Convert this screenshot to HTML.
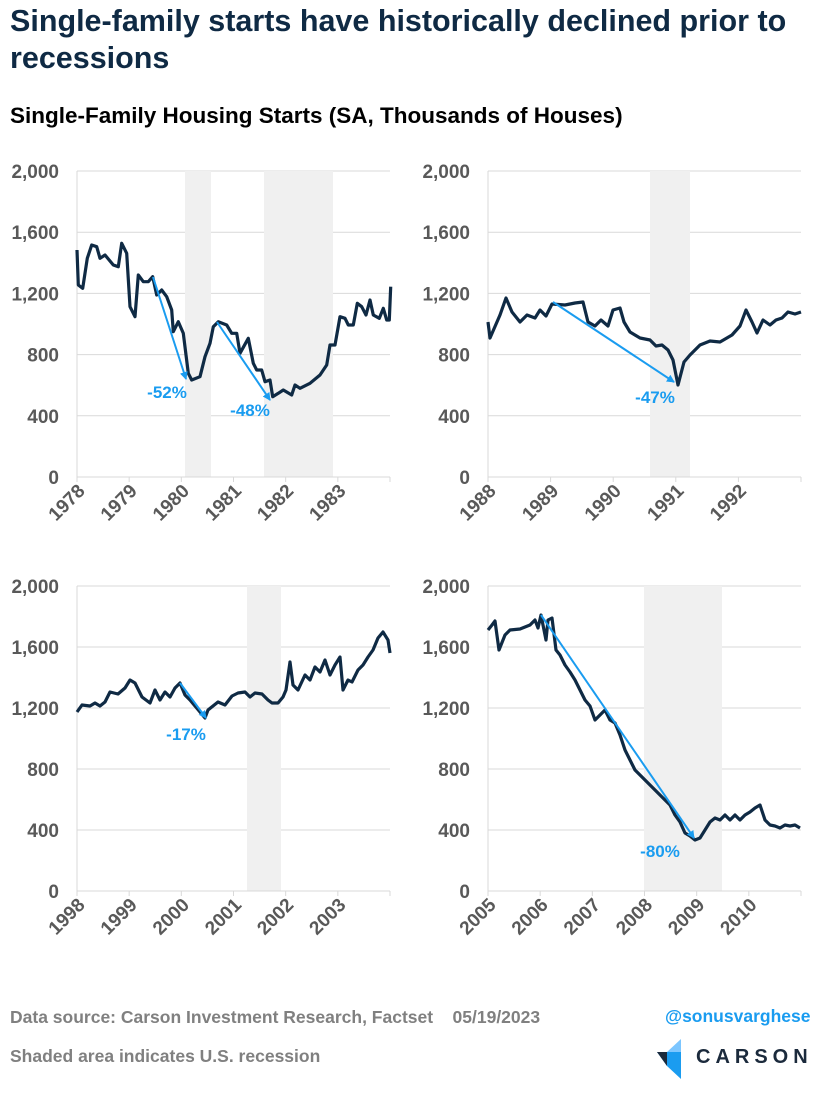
<!DOCTYPE html>
<html><head><meta charset="utf-8"><style>
body{margin:0;width:825px;height:1100px;background:#fff;font-family:"Liberation Sans",Arial,sans-serif;overflow:hidden;position:relative}
.t{position:absolute;left:10px;top:3px;font-size:30.5px;font-weight:bold;color:#0f2a44;line-height:37px;width:810px}
.s{position:absolute;left:10px;top:103px;font-size:22.5px;font-weight:bold;color:#000}
.f{position:absolute;font-size:17.5px;font-weight:bold;color:#808080}
svg{position:absolute;left:0;top:0}
</style></head><body>
<div class="t">Single-family starts have historically declined prior to recessions</div>
<div class="s">Single-Family Housing Starts (SA, Thousands of Houses)</div>
<div class="f" style="left:10px;top:1007px">Data source: Carson Investment Research, Factset&nbsp;&nbsp;&nbsp;&nbsp;05/19/2023</div>
<div class="f" style="left:10px;top:1046px">Shaded area indicates U.S. recession</div>
<div class="f" style="left:665px;top:1006px;color:#1a9cf0;font-size:17.5px">@sonusvarghese</div>
<div style="position:absolute;left:696px;top:1046px;font-size:20px;letter-spacing:5px;color:#1b2a3c;font-weight:bold">CARSON</div>
<svg width="825" height="1100" id="s">
<polygon points="681,1039 667,1052 681,1052" fill="#7cc6ff"/>
<polygon points="657,1052 681,1052 681,1079 667,1066" fill="#1a9cf0"/>
<polygon points="657,1052 667,1052 667,1066" fill="#1b2a3c"/>
</svg>
<script>
var svg=document.getElementById('s'),h='';
function chart(x0,x1,y0,yT,years,shades,pts,arrows,labs){
 for(var i=0;i<=5;i++){var y=y0+(yT-y0)*i/5;
  if(i>0)h+='<line x1="'+x0+'" x2="'+x1+'" y1="'+y+'" y2="'+y+'" stroke="#d9d9d9" stroke-width="1"/>';
  h+='<text x="'+(x0-18)+'" y="'+(y+7)+'" text-anchor="end" font-size="19" font-weight="bold" fill="#595959">'+(['0','400','800','1,200','1,600','2,000'][i])+'</text>';}
 shades.forEach(function(s){h+='<rect x="'+s[0]+'" y="'+yT+'" width="'+(s[1]-s[0])+'" height="'+(y0-yT)+'" fill="#f0f0f0"/>';});
 h+='<line x1="'+x0+'" x2="'+x0+'" y1="'+yT+'" y2="'+y0+'" stroke="#d9d9d9"/>';
 h+='<line x1="'+x0+'" x2="'+x1+'" y1="'+y0+'" y2="'+y0+'" stroke="#d9d9d9"/>';
 var n=years.length;
 for(var j=0;j<=n;j++){var x=x0+(x1-x0)*j/n;h+='<line x1="'+x+'" x2="'+x+'" y1="'+y0+'" y2="'+(y0+5)+'" stroke="#d9d9d9"/>';
  if(j<n)h+='<text transform="translate('+(x+9)+','+(y0+15)+') rotate(-45)" text-anchor="end" font-size="19" font-weight="bold" fill="#595959">'+years[j]+'</text>';}
 h+='<polyline points="'+pts+'" fill="none" stroke="#0f2a44" stroke-width="3.2" stroke-linejoin="round"/>';
 arrows.forEach(function(a){h+='<line x1="'+a[0]+'" y1="'+a[1]+'" x2="'+a[2]+'" y2="'+a[3]+'" stroke="#1a9cf0" stroke-width="2" marker-end="url(#ar)"/>';});
 labs.forEach(function(l){h+='<text x="'+l[0]+'" y="'+l[1]+'" text-anchor="middle" font-size="17" font-weight="bold" fill="#1a9cf0">'+l[2]+'</text>';});
}
var z=[[231,270],[235,375],[248,385],[262,295],[275,255],[290,260],[300,295],[315,285],[340,315],[355,320],[365,250],[380,280],[390,440],[405,470],[415,345],[430,365],[445,365],[458,350],[470,405],[485,390],[500,410],[515,450],[520,515],[535,485],[550,520],[565,640],[575,660],[600,650],[615,590],[630,550],[640,500],[655,485],[680,495],[695,520],[710,520],[720,580],[745,535],[760,610],[770,630],[785,630],[795,665],[810,660],[818,710],[835,700],[850,690],[875,705],[885,675],[900,685],[930,670],[960,645],[980,615],[990,555],[1005,555],[1020,470],[1035,475],[1045,495],[1060,495],[1072,430],[1085,440],[1098,465],[1110,420],[1120,465],[1138,475],[1150,445],[1160,480],[1168,480],[1172,380]];
var p1=z.map(function(q){return (q[0]/3).toFixed(1)+','+(160+q[1]/3).toFixed(1)}).join(' ');
chart(77,390,477,171,[1978,1979,1980,1981,1982,1983],[[185,211],[264,333]],p1,[[153,277,186,379],[217,322,270,400]],[[167,398,'-52%'],[250,416,'-48%']]);
chart(488,801,477,171,[1988,1989,1990,1991,1992],[[650,690]],
"488,322 490,338 500,315 506,298 512,312 520,322 527,315 535,318 540,310 546,316 552,304 565,305 575,303 583,302 588,322 595,326 601,320 608,326 613,310 620,308 624,322 630,332 640,338 650,340 656,346 662,345 668,350 673,360 678,385 684,362 690,355 700,345 710,341 720,342 732,335 740,326 746,310 752,322 757,333 763,320 770,325 776,320 782,318 788,312 795,314 801,312",
[[553,302,674,382]],[[655,403,'-47%']]);
chart(77,390,891,586,[1998,1999,2000,2001,2002,2003],[[247,281]],
"77,712 82,705 90,706 95,703 100,706 105,702 110,692 118,694 125,688 130,680 135,683 142,697 150,703 155,690 160,700 165,692 170,697 175,688 180,683 185,695 190,700 200,712 205,718 208,710 213,706 218,702 225,705 232,696 238,693 245,692 250,697 255,693 262,694 268,700 272,703 278,703 283,697 286,690 290,662 293,685 298,690 305,675 310,680 315,667 320,672 325,660 330,675 335,665 340,657 343,690 348,680 352,682 358,670 363,665 368,657 373,650 378,638 383,632 388,640 390,653",
[[180,683,206,718]],[[186,740,'-17%']]);
chart(488,801,891,586,[2005,2006,2007,2008,2009,2010],[[644,722]],
"488,630 492,625 495,621 499,650 505,635 510,630 520,629 530,625 535,620 538,628 541,615 546,640 548,620 552,618 556,650 560,655 565,665 570,672 575,680 580,690 585,700 590,706 595,720 600,715 605,710 610,720 615,723 620,735 625,750 630,760 635,770 640,775 645,780 650,785 655,790 660,795 665,800 670,805 675,815 680,822 685,833 690,836 695,840 700,838 705,830 710,822 715,818 720,820 725,815 730,820 735,815 740,820 745,815 750,812 755,808 760,805 765,820 770,825 775,826 780,828 785,825 790,826 795,825 800,828",
[[541,615,694,838]],[[660,857,'-80%']]);
svg.innerHTML='<defs><marker id="ar" markerWidth="8" markerHeight="8" refX="7" refY="4" orient="auto" markerUnits="userSpaceOnUse"><path d="M0,0 L8,4 L0,8 z" fill="#1a9cf0"/></marker></defs>'+h+svg.innerHTML;
</script>
</body></html>
